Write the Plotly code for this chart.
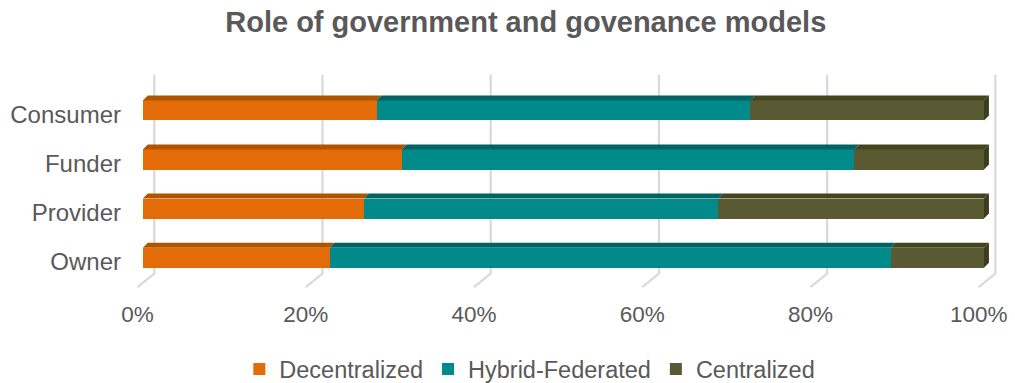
import plotly.graph_objects as go

# ---------------- data ----------------
categories = ["Owner", "Provider", "Funder", "Consumer"]   # bottom -> top
decentralized = [22.2, 26.3, 30.8, 27.8]
hybrid_federated = [66.7, 42.1, 53.8, 44.4]
centralized = [11.1, 31.6, 15.4, 27.8]
tick_values = [0, 20, 40, 60, 80, 100]
tick_labels = ["0%", "20%", "40%", "60%", "80%", "100%"]

series_names = ["Decentralized", "Hybrid-Federated", "Centralized"]
series_values = [decentralized, hybrid_federated, centralized]
front_colors = ["#E36C09", "#008A8A", "#5A5A32"]
top_colors = ["#B05400", "#006464", "#44441F"]
side_color = "#3C3C1E"

FONT = "Liberation Sans, Arial, sans-serif"
TXT = "#595959"

# 3D look parameters (axis units)
bar_shift = 0.088      # bar centre vs category label
bar_w = 0.408
dx_top, dy_top = 0.59, 0.102
grid_dx = 1.36         # back-wall gridline offset
floor_dx = -0.63       # front floor offset
grid_top, grid_bottom, floor_bottom = 3.816, -0.235, -0.51

fig = go.Figure()
ypos = [i + bar_shift for i in range(len(categories))]
for name, vals, col in zip(series_names, series_values, front_colors):
    fig.add_trace(go.Bar(
        y=ypos, x=vals, name=name, orientation="h",
        width=bar_w, marker=dict(color=col, line=dict(width=0)),
        hoverinfo="x+name"))

shapes = []
# gridlines (back wall + floor diagonal)
for v in tick_values:
    shapes.append(dict(type="path", xref="x", yref="y", layer="below",
                       path=f"M{v+grid_dx},{grid_top} L{v+grid_dx},{grid_bottom} L{v+floor_dx},{floor_bottom}",
                       line=dict(color="#D9D9D9", width=2.2)))

# top faces and right side face
for i, y in enumerate(ypos):
    yt = y + bar_w / 2
    yb = y - bar_w / 2
    start = 0.0
    for s, vals in enumerate(series_values):
        x0, x1 = start, start + vals[i]
        shapes.append(dict(type="path", xref="x", yref="y", layer="above",
                           path=f"M{x0},{yt} L{x1},{yt} L{x1+dx_top},{yt+dy_top} L{x0+dx_top},{yt+dy_top} Z",
                           fillcolor=top_colors[s], line=dict(width=0)))
        start = x1
    shapes.append(dict(type="path", xref="x", yref="y", layer="above",
                       path=f"M{start},{yb} L{start},{yt} L{start+dx_top},{yt+dy_top} L{start+dx_top},{yb+dy_top} Z",
                       fillcolor=side_color, line=dict(width=0)))

fig.update_layout(
    width=1015, height=383,
    margin=dict(l=126.4, r=7.2, t=73.35, b=94.05, pad=0),
    paper_bgcolor="white", plot_bgcolor="white",
    barmode="stack", bargap=0,
    font=dict(family=FONT, color=TXT, size=22),
    title=dict(text="<b>Role of government and govenance models</b>",
               x=0.518, xanchor="center", xref="container",
               y=0.942, yanchor="middle", yref="container",
               font=dict(family=FONT, size=29, color=TXT)),
    xaxis=dict(range=[-2, 102.5], tickvals=[v + floor_dx for v in tick_values],
               ticktext=tick_labels, showgrid=False, zeroline=False, showline=False,
               ticks="", tickfont=dict(size=22.5, color=TXT), fixedrange=True,
               ticklabelstandoff=9),
    yaxis=dict(range=[-0.55, 3.85], tickvals=list(range(len(categories))),
               ticktext=categories, showgrid=False, zeroline=False, showline=False,
               ticks="", tickfont=dict(size=24, color=TXT), fixedrange=True,
               ticklabelstandoff=4),
    legend=dict(orientation="h", x=0.522, xanchor="center", xref="container",
                y=0.036, yanchor="middle", yref="container",
                traceorder="normal", font=dict(size=23.5, color=TXT),
                itemwidth=30),
    shapes=shapes,
    showlegend=True,
)

fig.write_html("out.html")
